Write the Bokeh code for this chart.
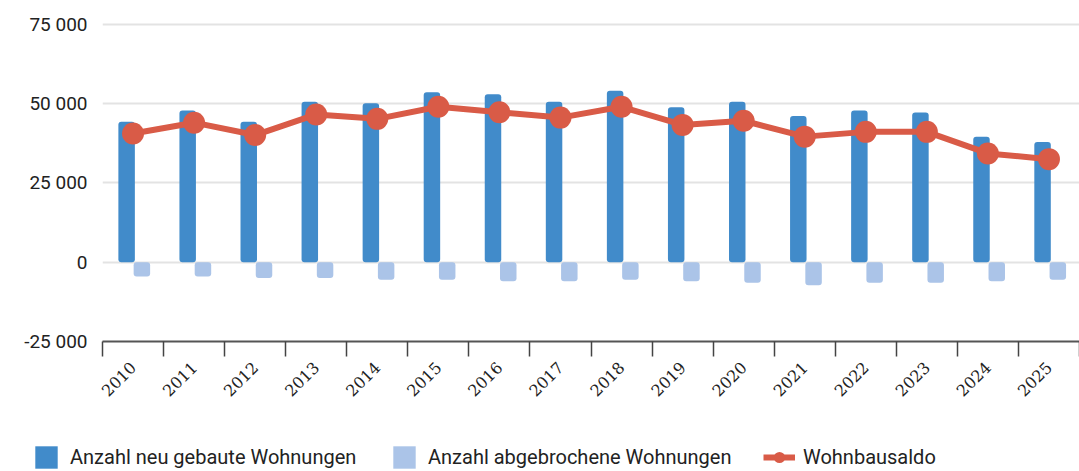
import math
from bokeh.plotting import figure
from bokeh.layouts import column
from bokeh.models import (Range1d, FixedTicker, Legend, LegendItem, ColumnDataSource)
from bokeh.embed import file_html
from bokeh.resources import INLINE

years = ["2010", "2011", "2012", "2013", "2014", "2015", "2016", "2017",
         "2018", "2019", "2020", "2021", "2022", "2023", "2024", "2025"]
neu_gebaut = [44300, 47800, 44300, 50600, 50100, 53600, 53000, 50600,
              54100, 48900, 50600, 46100, 47800, 47200, 39600, 37900]
abgebrochen = [-4500, -4500, -5000, -5000, -5500, -5500, -6000, -6000,
               -5500, -6000, -6500, -7300, -6500, -6500, -6000, -5500]
saldo = [40600, 44000, 40100, 46600, 45200, 49000, 47300, 45600,
         49000, 43300, 44600, 39600, 41100, 41100, 34300, 32500]
y_ticks = [-25000, 0, 25000, 50000, 75000]
y_labels = ["-25 000", "0", "25 000", "50 000", "75 000"]
series_names = ["Anzahl neu gebaute Wohnungen", "Anzahl abgebrochene Wohnungen", "Wohnbausaldo"]

DARK = "#418BCA"
LIGHT = "#ABC4E8"
RED = "#D95B47"
TEXT = "#222222"
FONT = "Roboto"

n = len(years)
centers = [i + 0.5 for i in range(n)]
bounds = [float(i) for i in range(n + 1)]

src = ColumnDataSource(dict(
    xc=centers,
    x_new=[c - 0.105 for c in centers],
    x_abg=[c + 0.145 for c in centers],
    neu=neu_gebaut, abg=abgebrochen, saldo=saldo,
))

def draw_series(fig):
    r1 = fig.vbar(x="x_new", top="neu", bottom=0, width=0.27, source=src,
                  fill_color=DARK, line_color=None, border_radius=3)
    r2 = fig.vbar(x="x_abg", top=0, bottom="abg", width=0.27, source=src,
                  fill_color=LIGHT, line_color=None, border_radius=3)
    r3 = fig.line(x="xc", y="saldo", source=src, line_color=RED, line_width=6)
    r4 = fig.scatter(x="xc", y="saldo", source=src, size=22, fill_color=RED,
                     line_color=None)
    return r1, r2, r3, r4

p = figure(width=1079, height=430, output_backend="svg", toolbar_location=None,
           x_range=Range1d(0, n), y_range=Range1d(-25000, 80000),
           min_border_left=102, min_border_right=0, min_border_top=8,
           min_border_bottom=89)
p.frame_align = False
p.outline_line_color = None
p.background_fill_color = "white"
draw_series(p)

# grid
p.xgrid.visible = False
p.ygrid.ticker = FixedTicker(ticks=y_ticks[1:])
p.ygrid.grid_line_color = "#E3E3E3"
p.ygrid.grid_line_width = 2

# y axis
p.yaxis.ticker = FixedTicker(ticks=y_ticks)
p.yaxis.major_label_overrides = {t: l for t, l in zip(y_ticks, y_labels)}
p.yaxis.axis_line_color = None
p.yaxis.major_tick_line_color = None
p.yaxis.minor_tick_line_color = None
p.yaxis.major_tick_out = 0
p.yaxis.major_tick_in = 0
p.yaxis.major_label_standoff = 15
p.yaxis.major_label_text_font = FONT
p.yaxis.major_label_text_font_size = "19px"
p.yaxis.major_label_text_color = TEXT

# x axis
p.xaxis.ticker = FixedTicker(ticks=centers, minor_ticks=bounds)
p.xaxis.major_label_overrides = {c: y for c, y in zip(centers, years)}
p.xaxis.axis_line_color = "#555555"
p.xaxis.axis_line_width = 2
p.xaxis.major_tick_line_color = None
p.xaxis.major_tick_out = 14
p.xaxis.major_tick_in = 0
p.xaxis.minor_tick_line_color = "#444444"
p.xaxis.minor_tick_line_width = 1.5
p.xaxis.minor_tick_out = 15
p.xaxis.minor_tick_in = 0
p.xaxis.major_label_orientation = math.pi / 4
p.xaxis.major_label_standoff = 8
p.xaxis.major_label_text_font = "DejaVu Serif"
p.xaxis.major_label_text_font_size = "16px"
p.xaxis.major_label_text_color = TEXT

# legend strip: separate figure whose view range lies away from the data,
# so only the legend entries are visible
lp = figure(width=1079, height=41, output_backend="svg", toolbar_location=None,
            x_range=Range1d(1000, 2000), y_range=Range1d(-2e6, -1e6),
            x_axis_location=None, y_axis_location=None,
            min_border=0, min_border_left=0, min_border_right=0,
            min_border_top=0, min_border_bottom=0)
lp.frame_align = False
lp.outline_line_color = None
lp.xgrid.visible = False
lp.ygrid.visible = False
l_new, l_abg, l_line, l_circ = draw_series(lp)

def mk_legend(item, x, gw, standoff):
    lg = Legend(items=[item], location=(x, 0), orientation="horizontal",
                glyph_width=gw, glyph_height=28, label_standoff=standoff,
                label_text_font=FONT, label_text_font_size="20px",
                label_text_color=TEXT, border_line_color=None,
                background_fill_alpha=0, padding=0, margin=0, spacing=0)
    lp.add_layout(lg, "center")

mk_legend(LegendItem(label=series_names[0], renderers=[l_new]), 32, 28, 10)
mk_legend(LegendItem(label=series_names[1], renderers=[l_abg]), 390, 28, 10)
mk_legend(LegendItem(label=series_names[2], renderers=[l_line, l_circ]), 763, 32, 8)

layout = column(p, lp, spacing=0)
open("out.html", "w").write(file_html(layout, INLINE))
